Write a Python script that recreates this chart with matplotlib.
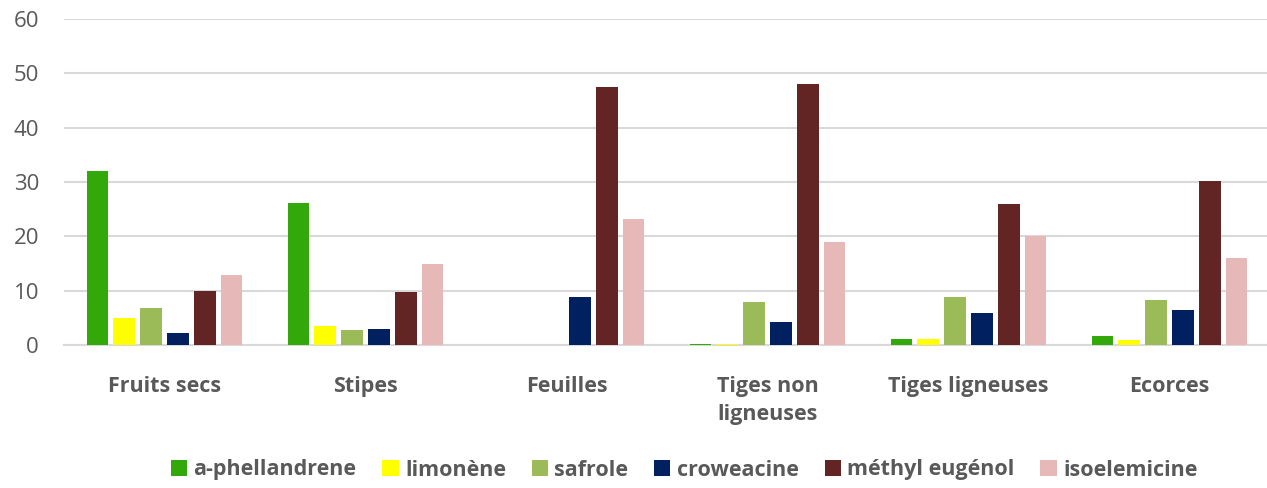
import numpy as np
import matplotlib.pyplot as plt

categories = ['Fruits secs', 'Stipes', 'Feuilles', 'Tiges non\nligneuses',
              'Tiges ligneuses', 'Ecorces']
compounds = ['a-phellandrene', 'limonène', 'safrole', 'croweacine',
             'méthyl eugénol', 'isoelemicine']

phellandrene = [32.0, 26.1, 0.0, 0.1, 1.1, 1.7]
limonene = [5.0, 3.5, 0.0, 0.1, 1.1, 0.9]
safrole = [6.9, 2.8, 0.0, 8.0, 8.8, 8.2]
croweacine = [2.3, 2.9, 8.8, 4.3, 5.8, 6.4]
methyl_eugenol = [10.0, 9.8, 47.4, 48.1, 26.0, 30.1]
isoelemicine = [12.9, 15.0, 23.1, 19.0, 20.1, 16.1]

series = [phellandrene, limonene, safrole, croweacine, methyl_eugenol, isoelemicine]
colors = ['#33a80a', '#ffff00', '#9bbb59', '#002060', '#632523', '#e6b8b7']

plt.rcParams['font.family'] = ['Open Sans', 'DejaVu Sans']

fig = plt.figure(figsize=(12.67, 4.88), dpi=100)
ax = fig.add_axes([64 / 1267, 1 - 345 / 488, 1206 / 1267, 326 / 488])

x = np.arange(len(categories))
pitch = 0.134
for i, (vals, c) in enumerate(zip(series, colors)):
    offs = (i - 2.5) * pitch
    ax.bar(x + offs, vals, width=0.106, color=c, linewidth=0,
           label=compounds[i], zorder=3)

ax.set_xlim(-0.5, 5.5)
ax.set_ylim(0, 60)
ax.set_yticks(range(0, 61, 10))
ax.yaxis.grid(True, color='#d9d9d9', linewidth=1.5, zorder=0)
ax.set_axisbelow(True)
for s in ['top', 'right', 'left']:
    ax.spines[s].set_visible(False)
ax.spines['bottom'].set_color('#d9d9d9')
ax.spines['bottom'].set_linewidth(1.5)
ax.tick_params(axis='both', length=0, colors='#595959')
ax.tick_params(axis='y', labelsize=16, pad=18)
ax.set_xticks(x)
ax.set_xticklabels(categories, fontsize=15.5, fontweight='bold',
                   color='#595959', linespacing=1.45)
ax.tick_params(axis='x', pad=22)

leg = fig.legend(loc='center', bbox_to_anchor=(0.54, 1 - 470 / 488), ncol=6,
                 frameon=False, handlelength=0.75, handleheight=0.75,
                 handletextpad=0.3, columnspacing=1.2,
                 prop={'size': 15.5, 'weight': 'bold'})
for t in leg.get_texts():
    t.set_color('#595959')

fig.savefig('out.png', dpi=100)
